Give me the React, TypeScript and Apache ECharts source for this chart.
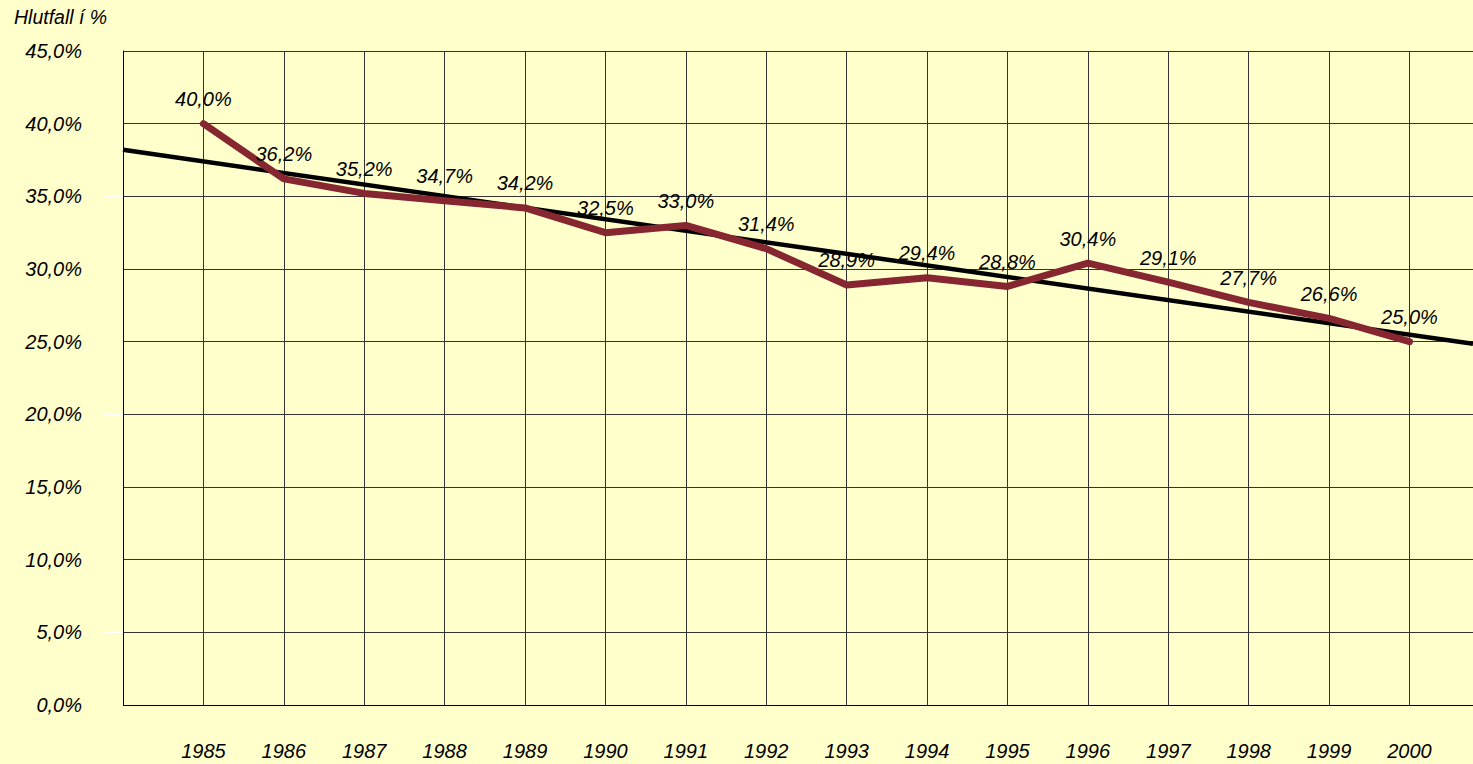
import React, { useEffect, useRef } from "react";
import * as echarts from "echarts";

const years: number[] = [1985, 1986, 1987, 1988, 1989, 1990, 1991, 1992, 1993, 1994, 1995, 1996, 1997, 1998, 1999, 2000];
const shares: number[] = [40.0, 36.2, 35.2, 34.7, 34.2, 32.5, 33.0, 31.4, 28.9, 29.4, 28.8, 30.4, 29.1, 27.7, 26.6, 25.0];
// Trend line end points
const trendX: number[] = [1984, 2000.79];
const trendY: number[] = [38.2, 24.85];
const yTicks: number[] = [0, 5, 10, 15, 20, 25, 30, 35, 40, 45];
const axisTitle = "Hlutfall í %";

const FONT = "'Liberation Sans', Arial, sans-serif";

const fmtPct = (v: number) => v.toFixed(1).replace(".", ",") + "%";

export default function App() {
  const ref = useRef<HTMLDivElement>(null);
  useEffect(() => {
    if (!ref.current) return;
    const chart = echarts.init(ref.current, null, { renderer: "svg" });
    chart.setOption({
      animation: false,
      backgroundColor: "#FFFFCC",
      textStyle: { fontFamily: FONT },
      grid: { left: 123, top: 51, width: 1350, height: 654, containLabel: false },
      graphic: [
        {
          type: "text",
          left: 14,
          top: 7,
          style: { text: axisTitle, font: `italic 19.5px ${FONT}`, fill: "#000" },
        },
      ],
      xAxis: {
        type: "value",
        min: 1984,
        max: 2000.79,
        interval: 1,
        axisLine: { show: true, lineStyle: { color: "#000", width: 1 } },
        axisTick: { show: false },
        splitLine: { show: true, lineStyle: { color: "#333", width: 1 } },
        axisLabel: {
          margin: 36,
          fontSize: 20,
          fontStyle: "italic",
          fontFamily: FONT,
          color: "#000",
          showMaxLabel: false,
          formatter: (v: number) => (years.indexOf(Math.round(v)) >= 0 && Math.abs(v - Math.round(v)) < 1e-6 ? String(Math.round(v)) : ""),
        },
      },
      yAxis: {
        type: "value",
        min: yTicks[0],
        max: yTicks[yTicks.length - 1],
        interval: 5,
        axisLine: { show: true, lineStyle: { color: "#000", width: 1 } },
        axisTick: { show: true, length: 20, lineStyle: { color: "#FFFFFF", width: 1 } },
        splitLine: { show: true, lineStyle: { color: "#333", width: 1 } },
        axisLabel: {
          margin: 41,
          fontSize: 20,
          fontStyle: "italic",
          fontFamily: FONT,
          color: "#000",
          formatter: (v: number) => fmtPct(v),
        },
      },
      series: [
        {
          type: "line",
          data: trendX.map((x, i) => [x, trendY[i]]),
          symbol: "none",
          lineStyle: { color: "#000", width: 4.5 },
          z: 2,
          silent: true,
        },
        {
          type: "line",
          data: years.map((y, i) => [y, shares[i]]),
          symbol: "circle",
          symbolSize: 1,
          showSymbol: true,
          itemStyle: { color: "#862631", opacity: 0 },
          lineStyle: { color: "#862631", width: 7, cap: "round", join: "round" },
          z: 3,
          label: {
            show: true,
            position: "top",
            distance: 14,
            fontSize: 20,
            fontStyle: "italic",
            fontFamily: FONT,
            color: "#000",
            opacity: 1,
            formatter: (p: any) => fmtPct(p.value[1]),
          },
        },
      ],
    });
    return () => chart.dispose();
  }, []);
  return <div ref={ref} style={{ position: "absolute", left: 0, top: 0, width: 1473, height: 764 }} />;
}
